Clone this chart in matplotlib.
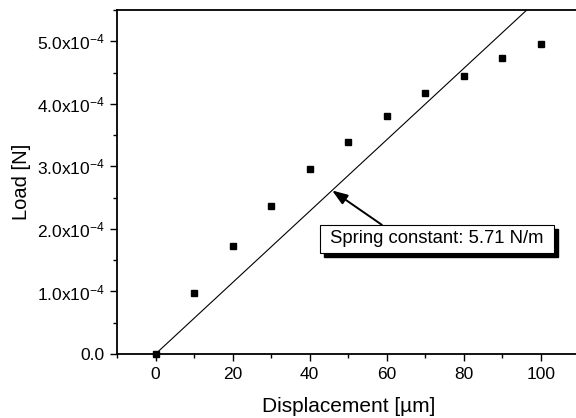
import matplotlib
matplotlib.use('Agg')

import matplotlib.pyplot as plt
import numpy as np
from matplotlib.ticker import MultipleLocator, FuncFormatter
from matplotlib.patches import Rectangle
from matplotlib.transforms import IdentityTransform

plt.rcParams['font.family'] = ['Liberation Sans', 'DejaVu Sans']
plt.rcParams['mathtext.fontset'] = 'custom'
plt.rcParams['mathtext.rm'] = 'Liberation Sans'
plt.rcParams['mathtext.default'] = 'regular'

# measured points
displacement = [0, 10, 20, 30, 40, 50, 60, 70, 80, 90, 100]   # um
load = [0.0, 0.98e-4, 1.73e-4, 2.36e-4, 2.95e-4, 3.39e-4,
        3.81e-4, 4.18e-4, 4.45e-4, 4.73e-4, 4.95e-4]          # N

# linear fit, spring constant in N/m -> N/um
spring_k = 5.71
fit_x = [0, 110]
arrow_x = 45.8
label = ' Spring constant: 5.71 N/m '


def sci_fmt(v, pos):
	if abs(v) < 1e-12:
		return '0.0'
	return '%.1fx10$^{-4}$' % (v / 1e-4)


fig = plt.figure(figsize=(5.76, 4.18), dpi=100)
ax = fig.add_axes([0.2031, 0.1531, 0.803, 0.823])

fit_y = [spring_k * 1e-6 * x for x in fit_x]
ax.plot(fit_x, fit_y, color='black', lw=0.8)
ax.plot(displacement, load, 's', color='black', ms=5, clip_on=False, zorder=5)

ax.set_xlim(-10, 110)
ax.set_ylim(0, 5.5e-4)
ax.xaxis.set_major_locator(MultipleLocator(20))
ax.xaxis.set_minor_locator(MultipleLocator(10))
ax.yaxis.set_major_locator(MultipleLocator(1e-4))
ax.yaxis.set_minor_locator(MultipleLocator(0.5e-4))
ax.yaxis.set_major_formatter(FuncFormatter(sci_fmt))

ax.tick_params(which='both', direction='out', width=1.0, labelsize=12.5)
ax.tick_params(which='major', length=5, pad=4)
ax.tick_params(which='minor', length=3)
for s in ax.spines.values():
	s.set_linewidth(1.3)

ax.set_xlabel('Displacement [\u00b5m]', fontsize=15, labelpad=11)
ax.set_ylabel('Load [N]', fontsize=14.5, labelpad=4)

# annotation box, shadow added below once the box size is known
tx, ty = 73.0, 1.84e-4
ann = ax.annotate(label, xy=(arrow_x, spring_k * 1e-6 * arrow_x), xytext=(tx, ty),
	fontsize=13.3, ha='center', va='center', zorder=7,
	bbox=dict(boxstyle='square,pad=0.28', fc='white', ec='black', lw=0.8),
	arrowprops=dict(arrowstyle='-|>,head_length=0.7,head_width=0.25',
		color='black', lw=1.4, shrinkA=0, shrinkB=0, relpos=(0.29, 1.0)))

fig.canvas.draw()
bb = ann.get_bbox_patch().get_window_extent()
shadow = Rectangle((bb.x0 + 4, bb.y0 - 4), bb.width, bb.height,
	fc='black', ec='black', zorder=6, clip_on=False)
shadow.set_transform(IdentityTransform())
ax.add_artist(shadow)

fig.savefig('out.png', dpi=100)
